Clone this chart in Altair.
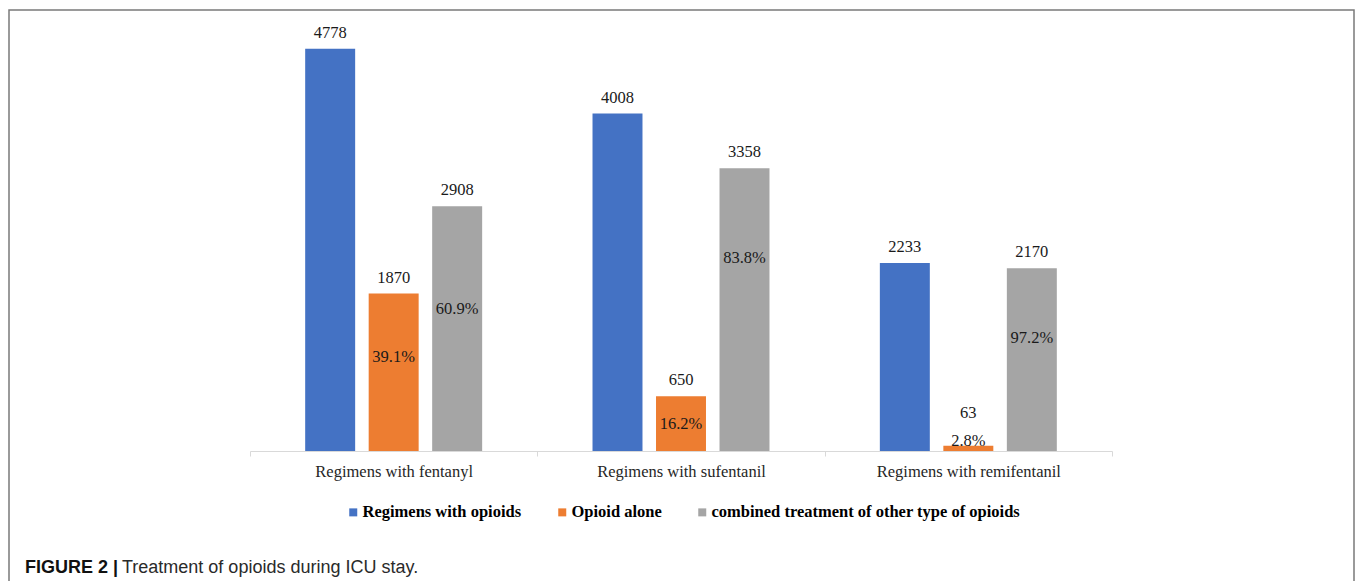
import altair as alt
import pandas as pd

categories = ["Regimens with fentanyl", "Regimens with sufentanil", "Regimens with remifentanil"]
series = ["Regimens with opioids", "Opioid alone", "combined treatment of other type of opioids"]
colors = ["#4472C4", "#ED7D31", "#A5A5A5"]

with_opioids = [4778, 4008, 2233]
opioid_alone = [1870, 650, 63]
combined = [2908, 3358, 2170]

alone_pct = ["39.1%", "16.2%", "2.8%"]
combined_pct = ["60.9%", "83.8%", "97.2%"]
# where the annotations sit, in data units
alone_pct_at = [1117, 321, 122]
combined_pct_at = [1688, 2294, 1343]
alone_value_label_at = [1870, 650, 261]

rows = []
for i, c in enumerate(categories):
    rows.append({"category": c, "series": series[0], "value": with_opioids[i],
                 "label_at": with_opioids[i], "pct": "", "pct_at": 0})
    rows.append({"category": c, "series": series[1], "value": opioid_alone[i],
                 "label_at": alone_value_label_at[i], "pct": alone_pct[i], "pct_at": alone_pct_at[i]})
    rows.append({"category": c, "series": series[2], "value": combined[i],
                 "label_at": combined[i], "pct": combined_pct[i], "pct_at": combined_pct_at[i]})
df = pd.DataFrame(rows)

SERIF = "Liberation Serif"
SANS = "Liberation Sans"

x_enc = alt.X(
    "category:N",
    sort=categories,
    scale=alt.Scale(paddingInner=0, paddingOuter=0),
    axis=alt.Axis(
        title=None,
        labelAngle=0,
        labelFont=SERIF,
        labelFontSize=16.5,
        labelColor="#262626",
        labelPadding=7,
        labelLimit=400,
        domainColor="#d9d9d9",
        domainWidth=1,
        tickColor="#d9d9d9",
        tickSize=5,
        tickBand="extent",
        grid=False,
    ),
)
xo_enc = alt.XOffset(
    "series:N",
    sort=series,
    scale=alt.Scale(domain=series, paddingInner=0.213, paddingOuter=0.869),
)
y_scale = alt.Scale(domain=[0, 5000], nice=False)

base = alt.Chart(df)

bars = base.mark_bar().encode(
    x=x_enc,
    xOffset=xo_enc,
    y=alt.Y("value:Q", scale=y_scale, axis=None),
    color=alt.Color(
        "series:N",
        sort=series,
        scale=alt.Scale(domain=series, range=colors),
        legend=alt.Legend(
            title=None,
            orient="none",
            legendX=95,
            legendY=474,
            direction="horizontal",
            symbolType="square",
            symbolSize=64,
            symbolStrokeWidth=0,
            labelFont=SERIF,
            labelFontWeight="bold",
            labelFontSize=16.5,
            labelColor="#000000",
            labelOffset=1,
            columnPadding=32,
            padding=0,
            labelLimit=500,
        ),
    ),
)

value_labels = base.mark_text(
    font=SERIF, fontSize=16.5, color="#1a1a1a", baseline="middle", dy=-16
).encode(
    x=x_enc,
    xOffset=xo_enc,
    y=alt.Y("label_at:Q", scale=y_scale, axis=None),
    text="value:Q",
)

pct_labels = base.transform_filter(alt.datum.pct != "").mark_text(
    font=SERIF, fontSize=16.5, color="#1a1a1a", baseline="middle"
).encode(
    x=x_enc,
    xOffset=xo_enc,
    y=alt.Y("pct_at:Q", scale=y_scale, axis=None),
    text="pct:N",
)

deco = alt.Data(values=[{"k": 1}])

border = alt.Chart(deco).mark_rect(
    fillOpacity=0, stroke="#7a7a7a", strokeWidth=1.5
).encode(
    x=alt.value(-241), x2=alt.value(1104), y=alt.value(-20), y2=alt.value(600)
)

cap_bold = alt.Chart(deco).mark_text(
    text="FIGURE 2 |", font=SANS, fontWeight="bold", fontSize=18,
    align="left", baseline="alphabetic", color="#111111"
).encode(x=alt.value(-225), y=alt.value(543))

cap_text = alt.Chart(deco).mark_text(
    text="Treatment of opioids during ICU stay.", font=SANS, fontSize=18,
    align="left", baseline="alphabetic", color="#2a2a2a"
).encode(x=alt.value(-128), y=alt.value(543))

chart = alt.layer(bars, value_labels, pct_labels, border, cap_bold, cap_text).properties(
    width=862,
    height=421,
    padding={"left": 250, "top": 30, "right": 243, "bottom": 130},
    autosize=alt.AutoSizeParams(type="none"),
    background="white",
).configure_view(strokeWidth=0)

chart.save("out.html", embed_options={"renderer": "svg", "actions": False})
